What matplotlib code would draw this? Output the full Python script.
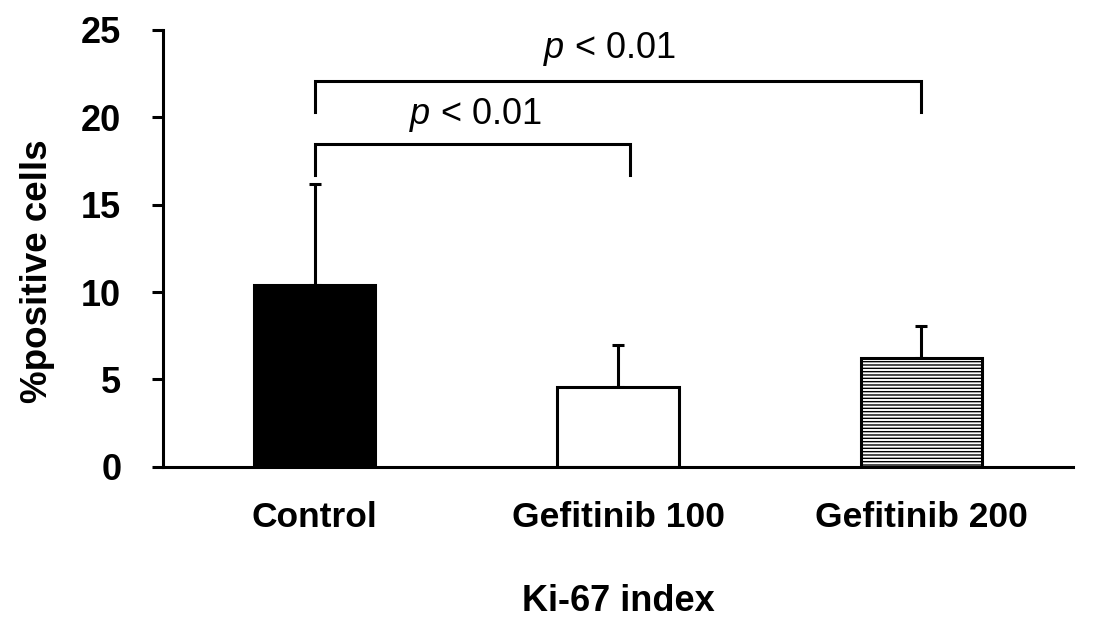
import matplotlib
matplotlib.use("Agg")
import matplotlib.pyplot as plt

plt.rcParams['font.family'] = ['Liberation Sans', 'DejaVu Sans']
plt.rcParams['hatch.linewidth'] = 1.0
plt.rcParams['mathtext.fontset'] = 'custom'
plt.rcParams['mathtext.it'] = 'Liberation Sans:italic'
plt.rcParams['mathtext.rm'] = 'Liberation Sans'

categories = ["Control", "Gefitinib 100", "Gefitinib 200"]
means = [10.4, 4.55, 6.25]
errors = [5.8, 2.4, 1.8]
y_ticks = [0, 5, 10, 15, 20, 25]
x_title = "Ki-67 index"
y_title = "%positive cells"
sig_label = "p < 0.01"

fig = plt.figure(figsize=(10.96, 6.42), dpi=100)
ax = fig.add_axes([163/1096, 1 - 466.7/642, (1073-163)/1096, (466.7-30)/642])

x = list(range(len(categories)))
faces = ["black", "white", "white"]
hatches = [None, None, "-----"]
for xi, m, f, h in zip(x, means, faces, hatches):
    ax.bar(xi, m, width=0.40, color=f, edgecolor="black", linewidth=2.2, hatch=h, zorder=2)
ax.errorbar(x, means, yerr=[[0]*3, errors], fmt="none", ecolor="black",
            elinewidth=2.2, capsize=4, capthick=2.2, zorder=1)

ax.set_xlim(-0.5, 2.5)
ax.set_ylim(0, 25)
ax.set_yticks(y_ticks)
ax.set_xticks(x)
ax.set_xticklabels(categories, fontsize=25.5, fontweight="bold")
for lab in ax.get_yticklabels():
    lab.set_fontsize(26)
    lab.set_fontweight("bold")
ax.tick_params(axis="y", length=8, width=2.2, pad=22, direction="out")
ax.tick_params(axis="x", length=0, pad=25)
for s in ["top", "right"]:
    ax.spines[s].set_visible(False)
for s in ["left", "bottom"]:
    ax.spines[s].set_linewidth(2.2)

ax.set_xlabel(x_title, fontsize=26, fontweight="bold", labelpad=36)
ax.set_ylabel(y_title, fontsize=26.5, fontweight="bold")
ax.yaxis.label.set_va("center")
ax.yaxis.set_label_coords(-0.138, 0.448)

def bracket(x0, x1, ytop, ybot, text, tx, ty):
    ax.plot([x0, x0, x1, x1], [ybot, ytop, ytop, ybot], color="black", lw=2.2,
            clip_on=False, solid_joinstyle="miter")
    ax.text(tx, ty, r"$\it{p}$" + sig_label[1:], fontsize=26, ha="center", va="center")

bracket(0, 1.04, 18.45, 16.7, sig_label, 0.53, 20.15)
bracket(0, 2.0, 22.1, 20.3, sig_label, 0.97, 23.9)

fig.savefig("out.png", dpi=100)
